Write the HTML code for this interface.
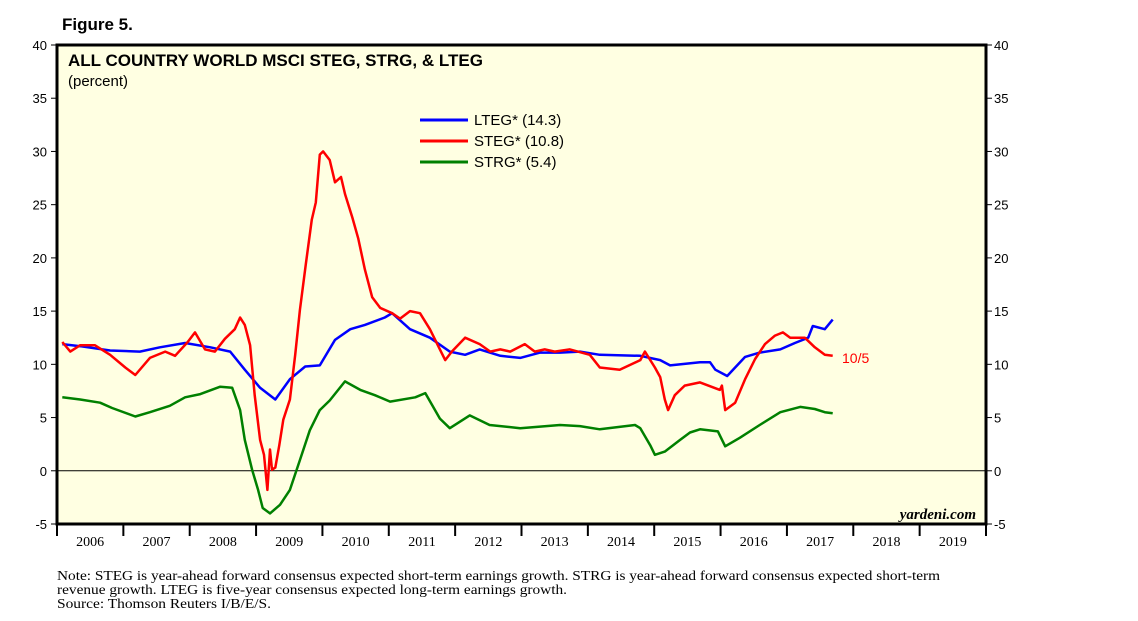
<!DOCTYPE html>
<html><head><meta charset="utf-8"><style>
body{margin:0;background:#fff;width:1138px;height:621px;overflow:hidden}
svg{display:block}
</style></head><body>
<svg id="chart" width="1138" height="621" xmlns="http://www.w3.org/2000/svg">
<text x="62" y="30" font-family="Liberation Sans, sans-serif" font-weight="bold" font-size="17">Figure 5.</text>
<rect x="57" y="45" width="929" height="479" fill="#ffffe2" stroke="#000" stroke-width="3"/>
<text x="68" y="66" font-family="Liberation Sans, sans-serif" font-weight="bold" font-size="17">ALL COUNTRY WORLD MSCI STEG, STRG, &amp; LTEG</text>
<text x="68" y="86" font-family="Liberation Sans, sans-serif" font-size="15">(percent)</text>
<g id="axes"></g>
<g id="series"></g>
<g font-family="Liberation Sans, sans-serif" font-size="15">
<line x1="420" y1="120" x2="468" y2="120" stroke="#0000ff" stroke-width="3"/>
<text x="474" y="125">LTEG* (14.3)</text>
<line x1="420" y1="141" x2="468" y2="141" stroke="#ff0000" stroke-width="3"/>
<text x="474" y="146">STEG* (10.8)</text>
<line x1="420" y1="162" x2="468" y2="162" stroke="#008000" stroke-width="3"/>
<text x="474" y="167">STRG* (5.4)</text>
</g>
<text x="842" y="363" fill="#ff0000" font-family="Liberation Sans, sans-serif" font-size="14">10/5</text>
<text x="976" y="519" text-anchor="end" font-family="Liberation Serif, serif" font-style="italic" font-weight="bold" font-size="15">yardeni.com</text>
<g font-family="Liberation Serif, serif" font-size="13.5">
<text x="57" y="580" textLength="883" lengthAdjust="spacingAndGlyphs">Note: STEG is year-ahead forward consensus expected short-term earnings growth. STRG is year-ahead forward consensus expected short-term</text>
<text x="57" y="594" textLength="510" lengthAdjust="spacingAndGlyphs">revenue growth. LTEG is five-year consensus expected long-term earnings growth.</text>
<text x="57" y="608" textLength="214" lengthAdjust="spacingAndGlyphs">Source: Thomson Reuters I/B/E/S.</text>
</g>
</svg>
<script>
const yTicks=[-5,0,5,10,15,20,25,30,35,40];
const years=[2006,2007,2008,2009,2010,2011,2012,2013,2014,2015,2016,2017,2018,2019];
const ltegDates=[2006.08,2006.35,2006.8,2007.25,2007.55,2007.93,2008.31,2008.61,2008.83,2009.06,2009.29,2009.51,2009.74,2009.96,2010.19,2010.42,2010.64,2010.94,2011.05,2011.32,2011.62,2011.92,2012.15,2012.37,2012.68,2012.98,2013.28,2013.58,2013.88,2014.18,2014.79,2015.09,2015.24,2015.69,2015.84,2015.92,2016.1,2016.37,2016.59,2016.9,2017.12,2017.32,2017.39,2017.57,2017.69];
const ltegVals=[11.9,11.7,11.3,11.2,11.6,12.0,11.6,11.2,9.5,7.8,6.7,8.6,9.8,9.9,12.3,13.3,13.7,14.4,14.8,13.3,12.5,11.2,10.9,11.4,10.8,10.6,11.1,11.1,11.2,10.9,10.8,10.4,9.9,10.2,10.2,9.5,8.9,10.7,11.1,11.4,12.0,12.5,13.6,13.3,14.2];
const stegDates=[2006.08,2006.2,2006.35,2006.57,2006.8,2007.03,2007.18,2007.4,2007.63,2007.78,2007.97,2008.08,2008.23,2008.38,2008.53,2008.68,2008.76,2008.83,2008.91,2008.98,2009.06,2009.12,2009.17,2009.21,2009.24,2009.29,2009.35,2009.41,2009.51,2009.59,2009.66,2009.75,2009.84,2009.9,2009.96,2010.01,2010.11,2010.19,2010.28,2010.34,2010.45,2010.54,2010.64,2010.75,2010.87,2011.05,2011.17,2011.32,2011.47,2011.62,2011.77,2011.85,2011.95,2012.15,2012.37,2012.53,2012.68,2012.83,2013.05,2013.2,2013.35,2013.5,2013.73,2014.03,2014.18,2014.48,2014.79,2014.86,2015.01,2015.09,2015.16,2015.21,2015.31,2015.46,2015.69,2015.99,2016.02,2016.07,2016.22,2016.37,2016.52,2016.67,2016.82,2016.94,2017.05,2017.27,2017.42,2017.57,2017.69];
const stegVals=[12.1,11.2,11.8,11.8,10.9,9.7,9.0,10.6,11.2,10.8,12.1,13.0,11.4,11.2,12.4,13.3,14.4,13.7,11.8,7.1,2.9,1.5,-1.8,2.0,0.1,0.3,2.4,4.8,6.7,10.9,15.1,19.4,23.6,25.2,29.7,30.0,29.2,27.1,27.6,26.0,23.8,21.8,18.9,16.3,15.3,14.8,14.3,15.0,14.8,13.3,11.4,10.4,11.2,12.5,11.9,11.2,11.4,11.2,11.9,11.2,11.4,11.2,11.4,10.9,9.7,9.5,10.4,11.2,9.7,8.8,6.7,5.7,7.1,8.0,8.3,7.6,8.0,5.7,6.4,8.6,10.5,11.9,12.7,13.0,12.5,12.5,11.6,10.9,10.8];
const strgDates=[2006.08,2006.35,2006.65,2006.83,2007.18,2007.4,2007.7,2007.93,2008.16,2008.46,2008.64,2008.76,2008.83,2008.94,2009.03,2009.1,2009.21,2009.36,2009.51,2009.66,2009.81,2009.96,2010.11,2010.34,2010.57,2010.79,2011.02,2011.4,2011.55,2011.77,2011.92,2012.22,2012.52,2012.98,2013.58,2013.88,2014.18,2014.71,2014.79,2014.94,2015.01,2015.16,2015.39,2015.54,2015.69,2015.96,2016.07,2016.29,2016.59,2016.9,2017.2,2017.42,2017.57,2017.69];
const strgVals=[6.9,6.7,6.4,5.9,5.1,5.5,6.1,6.9,7.2,7.9,7.8,5.7,2.9,0.1,-1.8,-3.5,-4.0,-3.2,-1.8,1.0,3.8,5.7,6.6,8.4,7.6,7.1,6.5,6.9,7.3,4.9,4.0,5.2,4.3,4.0,4.3,4.2,3.9,4.3,4.0,2.4,1.5,1.8,2.9,3.6,3.9,3.7,2.3,3.1,4.3,5.5,6.0,5.8,5.5,5.4];

const NS='http://www.w3.org/2000/svg';
const L=57,R=986,T=45,B=524;
const xS=d=>L+(d-2006)*(R-L)/14;
const yS=v=>T+(40-v)*(B-T)/45;
const axes=document.getElementById('axes'),ser=document.getElementById('series');
function mk(tag,attrs,parent,text){const e=document.createElementNS(NS,tag);for(const k in attrs)e.setAttribute(k,attrs[k]);if(text!==undefined)e.textContent=text;parent.appendChild(e);return e;}
yTicks.forEach(v=>{
  const y=yS(v);
  const t1=mk('line',{x1:L-6,x2:L,y1:y,y2:y,stroke:'#000','stroke-width':1},axes);
  
  
  const t2=mk('line',{x1:R,x2:R+6,y1:y,y2:y,stroke:'#000','stroke-width':1},axes);
  
  
  const a=mk('text',{x:L-10,y:y+5,'text-anchor':'end','font-family':'Liberation Sans, sans-serif','font-size':13},axes,String(v));
  
  
  const b=mk('text',{x:R+8,y:y+5,'font-family':'Liberation Sans, sans-serif','font-size':13},axes,String(v));
  
  
});
const z=mk('line',{x1:L,x2:R,y1:yS(0),y2:yS(0),stroke:'#000','stroke-width':1},axes);


years.concat([2020]).forEach(yr=>{
  const x=xS(yr);
  const t=mk('line',{x1:x,x2:x,y1:B,y2:B+12,stroke:'#000','stroke-width':2},axes);
  
  
});
years.forEach(yr=>{
  const t=mk('text',{x:xS(yr+0.5),y:B+22,'text-anchor':'middle','font-family':'Liberation Serif, serif','font-size':14},axes,String(yr));
  
  
});
function line(dates,vals,color,name){
  const d=dates.map((t,i)=>(i?'L':'M')+xS(t).toFixed(1)+','+yS(vals[i]).toFixed(1)).join('');
  const p=mk('path',{d:d,fill:'none',stroke:color,'stroke-width':2.5,'stroke-linejoin':'round'},ser);
  
  
}
line(strgDates,strgVals,'#008000','strg-line');
line(ltegDates,ltegVals,'#0000ff','lteg-line');
line(stegDates,stegVals,'#ff0000','steg-line');
</script>
</body></html>
